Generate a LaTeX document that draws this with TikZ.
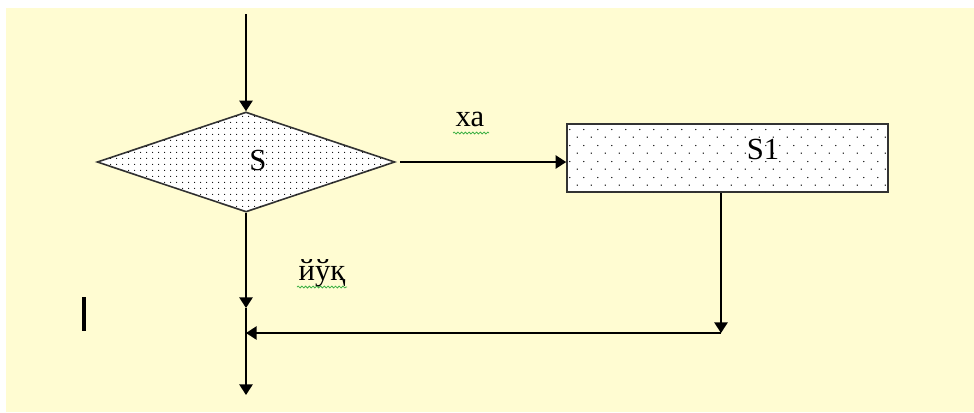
\documentclass[tikz,border=0pt]{standalone}
\usepackage{fontspec}
\setmainfont{Liberation Serif}
\usetikzlibrary{shapes.geometric,arrows.meta,patterns.meta,decorations.pathmorphing}
\definecolor{bgyellow}{HTML}{FFFCD2}
\definecolor{spellgreen}{HTML}{3CB043}
\tikzdeclarepattern{name=dotsA, type=uncolored,
  bounding box={(0,0) and (4.5pt,4.5pt)}, tile size={(4.5pt,4.5pt)},
  code={\fill (2.25pt,2.25pt) circle (0.5pt);}}
\tikzdeclarepattern{name=dotsB, type=uncolored,
  bounding box={(0,0) and (10.5pt,12pt)}, tile size={(10.5pt,12pt)},
  code={\fill (2.6pt,3pt) circle (0.55pt); \fill (7.9pt,9pt) circle (0.55pt);}}
\tikzset{
  dia/.style={diamond, draw=black!80, line width=1.2pt, fill=white,
    postaction={pattern=dotsA, pattern color=black},
    minimum width=223.5pt, minimum height=75pt, inner sep=0pt},
  procbox/.style={rectangle, draw=black!80, line width=1.2pt, fill=white,
    postaction={pattern=dotsB, pattern color=black},
    minimum width=240.75pt, minimum height=51pt, inner sep=0pt},
  lbl/.style={inner sep=0pt, font=\fontsize{23}{27}\selectfont},
  conn/.style={line width=1.35pt, black},
  spell/.style={spellgreen, line width=0.6pt, decorate,
    decoration={snake, amplitude=0.7pt, segment length=2.8pt}}
}
\begin{document}
\begin{tikzpicture}[x=0.75pt,y=-0.75pt, >={Triangle[width=10pt,length=8pt]}]
\useasboundingbox (0,0) rectangle (974,412);
\fill[white] (0,0) rectangle (974,412);
\fill[bgyellow] (6,8) rectangle (974,412);

\node[dia] (d) at (246,162) {};
\node[procbox] (r) at (727.5,158) {};
\node[lbl] (ts) at (258,160) {S};
\node[lbl] (ts1) at (763,149) {S1};
\node[lbl] (ha) at (470,119) {ха};
\node[lbl] (yuk) at (322,273) {йўқ};

\coordinate (top) at (246,14);
\coordinate (j1) at (246,308);
\coordinate (end) at (246,395);
\coordinate (c) at (721,333);
\coordinate (jl) at (246,333);

\draw[conn,->] (top) -- (d.north);
\draw[conn,->,shorten <=3pt] (d.east) -- (d.east -| r.west);
\draw[conn,->] (d.south) -- (j1);
\draw[conn,->] (j1) -- (end);
\draw[conn,->] (c |- r.south) -- (c);
\draw[conn,->] (c) -- (jl);

\draw[line width=2.6pt] (84,297) -- (84,331);

\draw[spell] (453,133) -- (489,133);
\draw[spell] (297,287) -- (347,287);
\end{tikzpicture}
\end{document}
